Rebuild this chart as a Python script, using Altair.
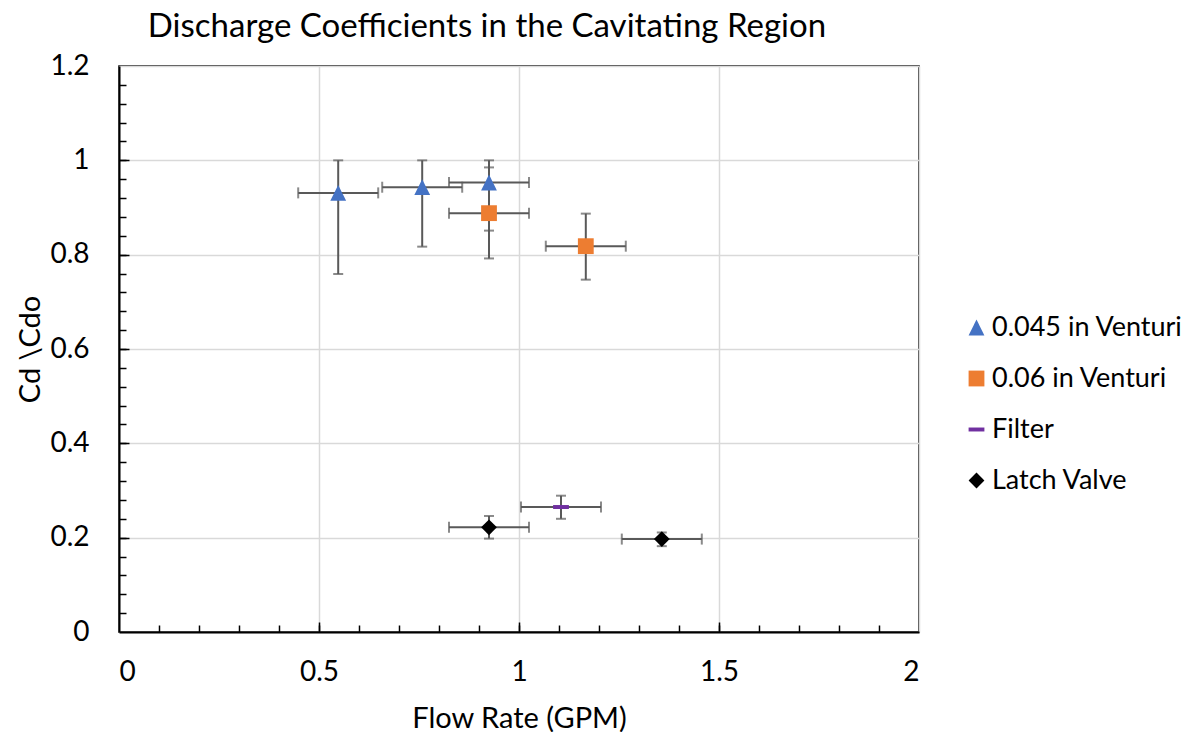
import altair as alt
import pandas as pd

# ---- data ----
series = ["0.045 in Venturi", "0.045 in Venturi", "0.045 in Venturi",
          "0.06 in Venturi", "0.06 in Venturi",
          "Filter",
          "Latch Valve", "Latch Valve"]
flow = [0.548, 0.758, 0.925, 0.925, 1.167, 1.105, 0.925, 1.357]
cd = [0.931, 0.943, 0.953, 0.888, 0.818, 0.265, 0.222, 0.197]
flow_lo = [0.448, 0.658, 0.825, 0.825, 1.067, 1.005, 0.825, 1.257]
flow_hi = [0.648, 0.858, 1.025, 1.025, 1.267, 1.205, 1.025, 1.457]
cd_lo = [0.759, 0.817, 0.851, 0.792, 0.747, 0.240, 0.198, 0.182]
cd_hi = [1.0, 1.0, 1.0, 0.985, 0.887, 0.289, 0.246, 0.211]

legend_names = ["0.045 in Venturi", "0.06 in Venturi", "Filter", "Latch Valve"]
colors = ["#4472C4", "#ED7D31", "#7030A0", "#000000"]
shapes = ["M0,-1L1,1L-1,1Z", "square", "M-1,-0.25H1V0.25H-1Z", "M0,-1L1,0L0,1L-1,0Z"]

x_major = [0, 0.5, 1, 1.5, 2]
x_mid = [0.5, 1, 1.5]
x_minor = [0.1, 0.2, 0.3, 0.4, 0.5, 0.6, 0.7, 0.8, 0.9, 1.0,
           1.1, 1.2, 1.3, 1.4, 1.5, 1.6, 1.7, 1.8, 1.9]
y_major = [0, 0.2, 0.4, 0.6, 0.8, 1.0, 1.2]
y_mid = [0.2, 0.4, 0.6, 0.8, 1.0]
y_minor = [0.04, 0.08, 0.12, 0.16, 0.2, 0.24, 0.28, 0.32, 0.36, 0.4,
           0.44, 0.48, 0.52, 0.56, 0.6, 0.64, 0.68, 0.72, 0.76, 0.8,
           0.84, 0.88, 0.92, 0.96, 1.0, 1.04, 1.08, 1.12, 1.16]

df = pd.DataFrame({
    "series": series, "flow": flow, "cd": cd,
    "flow_lo": flow_lo, "flow_hi": flow_hi,
    "cd_lo": cd_lo, "cd_hi": cd_hi,
})

FONT = "Lato"
ERR = "#595959"
xs = alt.Scale(domain=[0, 2], nice=False, zero=False)
ys = alt.Scale(domain=[0, 1.2], nice=False, zero=False)

base = alt.Chart(df)

# main axes (labels, grid, domain)
main_x = alt.Axis(values=x_major, grid=True, gridColor="#D9D9D9", gridWidth=1.5,
                  domain=True, domainColor="black", domainWidth=2, ticks=False,
                  labelPadding=26, format="~g", title="Flow Rate (GPM)",
                  titlePadding=18)
main_y = alt.Axis(values=y_major, grid=True, gridColor="#D9D9D9", gridWidth=1.5,
                  domain=True, domainColor="black", domainWidth=2, ticks=False,
                  labelPadding=30, format="~g", title="Cd \\Cdo",
                  titlePadding=4)

hbar = base.mark_rule(color=ERR, strokeWidth=2).encode(
    x=alt.X("flow_lo:Q", scale=xs, axis=main_x),
    x2="flow_hi:Q",
    y=alt.Y("cd:Q", scale=ys, axis=main_y),
)
vbar = base.mark_rule(color=ERR, strokeWidth=2).encode(
    x=alt.X("flow:Q", scale=xs, axis=None),
    y=alt.Y("cd_lo:Q", scale=ys, axis=None),
    y2="cd_hi:Q",
)
cap_l = base.mark_tick(orient="vertical", size=11, thickness=2, color=ERR).encode(
    x=alt.X("flow_lo:Q", scale=xs, axis=None), y=alt.Y("cd:Q", scale=ys, axis=None))
cap_r = base.mark_tick(orient="vertical", size=11, thickness=2, color=ERR).encode(
    x=alt.X("flow_hi:Q", scale=xs, axis=None), y=alt.Y("cd:Q", scale=ys, axis=None))
cap_b = base.mark_tick(orient="horizontal", size=10, thickness=2, color=ERR).encode(
    x=alt.X("flow:Q", scale=xs, axis=None), y=alt.Y("cd_lo:Q", scale=ys, axis=None))
cap_t = base.mark_tick(orient="horizontal", size=10, thickness=2, color=ERR).encode(
    x=alt.X("flow:Q", scale=xs, axis=None), y=alt.Y("cd_hi:Q", scale=ys, axis=None))

leg = alt.Legend(title=None, orient="none", legendX=844, legendY=248)
points = base.mark_point(filled=True, opacity=1, size=250, strokeWidth=0).encode(
    x=alt.X("flow:Q", scale=xs, axis=None),
    y=alt.Y("cd:Q", scale=ys, axis=None),
    color=alt.Color("series:N", scale=alt.Scale(domain=legend_names, range=colors), legend=leg),
    shape=alt.Shape("series:N", scale=alt.Scale(domain=legend_names, range=shapes), legend=leg),
)

def tick_layer(xvals, yvals, size):
    return base.mark_point(opacity=0).encode(
        x=alt.X("flow:Q", scale=xs,
                axis=alt.Axis(values=xvals, orient="bottom", offset=-size, tickSize=size,
                              tickWidth=1.5, tickColor="black", labels=False,
                              domain=False, grid=False, title=None)),
        y=alt.Y("cd:Q", scale=ys,
                axis=alt.Axis(values=yvals, orient="left", offset=-size, tickSize=size,
                              tickWidth=1.5, tickColor="black", labels=False,
                              domain=False, grid=False, title=None)),
    )

minor = tick_layer(x_minor, y_minor, 7)
mid = tick_layer(x_mid, y_mid, 10)

chart = alt.layer(hbar, vbar, cap_l, cap_r, cap_b, cap_t, points, minor, mid).resolve_axis(
    x="independent", y="independent"
).properties(
    width=800, height=566,
    autosize=alt.AutoSizeParams(type="none"),
    padding={"left": 111, "top": 58, "right": 265, "bottom": 100},
    title=alt.TitleParams("Discharge Coefficients in the Cavitating Region",
                          font=FONT, fontSize=33, fontWeight="normal", color="black",
                          anchor="middle", frame="group", dx=-32, offset=8),
).configure_view(
    stroke="black", strokeWidth=1.5
).configure_axis(
    labelFont=FONT, labelFontSize=28, labelColor="black",
    titleFont=FONT, titleFontSize=29, titleColor="black", titleFontWeight="normal",
).configure_legend(
    labelFont=FONT, labelFontSize=27, labelColor="black", labelLimit=400,
    symbolSize=250, rowPadding=23, labelOffset=2, padding=0, symbolStrokeWidth=0,
)

chart.save("out.html", embed_options={"renderer": "svg", "actions": False})
